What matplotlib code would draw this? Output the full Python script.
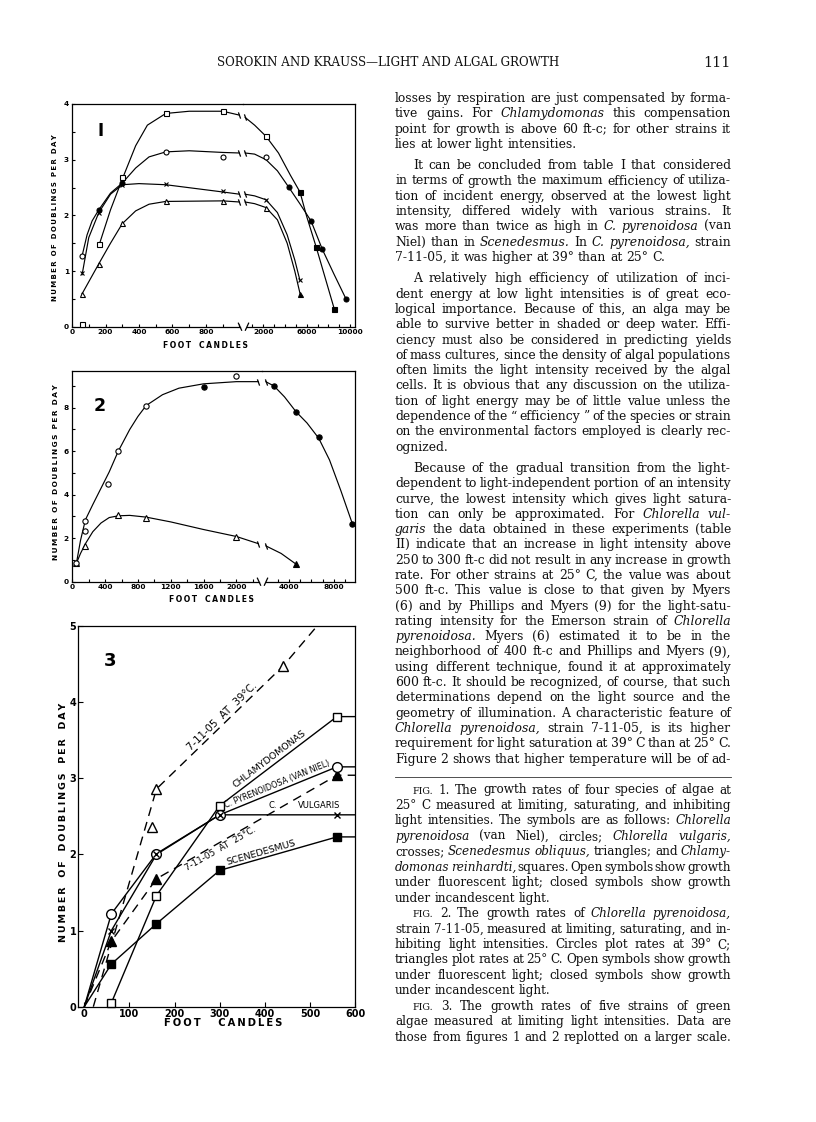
import numpy as np
import matplotlib
matplotlib.use("Agg")
import matplotlib.pyplot as plt
from matplotlib.lines import Line2D
from matplotlib.ticker import FixedLocator, FuncFormatter
import matplotlib.transforms as mtransforms

plt.rcParams['font.family'] = ['DejaVu Sans']
plt.rcParams['font.weight'] = 'bold'
plt.rcParams['lines.scale_dashes'] = False

# ======================= DATA =======================
# ---- Figure 1 : four species, 25 C (x = foot candles) ----
F1_CIRC_LX = [60, 160, 300, 560, 900]
F1_CIRC_LY = [1.27, 2.10, 2.58, 3.14, 3.05]
F1_CIRC_LF = [0, 1, 1, 0, 0]
F1_CIRC_RX = [2250, 4330, 6400, 7440, 9620]
F1_CIRC_RY = [3.04, 2.51, 1.90, 1.39, 0.50]
F1_CIRC_RF = [0, 1, 1, 1, 1]
F1_CIRC_CLX = [60, 90, 120, 160, 230, 300, 380, 460, 560, 700, 900, 1000]
F1_CIRC_CLY = [1.27, 1.65, 1.90, 2.10, 2.40, 2.58, 2.85, 3.05, 3.14, 3.16, 3.13, 3.12]
F1_CIRC_CRX = [320, 1200, 2250, 3300, 4330, 5400, 6400, 7440, 8500, 9620]
F1_CIRC_CRY = [3.12, 3.10, 3.00, 2.80, 2.51, 2.20, 1.90, 1.39, 0.95, 0.50]

F1_CROSS_LX = [60, 160, 300, 560, 900]
F1_CROSS_LY = [0.96, 2.05, 2.55, 2.57, 2.44]
F1_CROSS_RX = [2250, 5380]
F1_CROSS_RY = [2.28, 0.83]
F1_CROSS_CLX = [60, 100, 160, 230, 300, 400, 560, 900, 1000]
F1_CROSS_CLY = [0.93, 1.60, 2.05, 2.38, 2.55, 2.57, 2.55, 2.42, 2.38]
F1_CROSS_CRX = [320, 1200, 2250, 3300, 4200, 4900, 5380]
F1_CROSS_CRY = [2.38, 2.35, 2.28, 2.05, 1.65, 1.20, 0.83]

F1_TRI_LX = [60, 160, 300, 560, 900]
F1_TRI_LY = [0.59, 1.13, 1.87, 2.26, 2.26]
F1_TRI_RX = [2250, 5380]
F1_TRI_RY = [2.14, 0.58]
F1_TRI_RF = [0, 1]
F1_TRI_CLX = [60, 160, 230, 300, 380, 460, 560, 900, 1000]
F1_TRI_CLY = [0.59, 1.13, 1.50, 1.85, 2.08, 2.20, 2.25, 2.26, 2.24]
F1_TRI_CRX = [320, 1200, 2250, 3300, 4200, 4900, 5380]
F1_TRI_CRY = [2.24, 2.21, 2.14, 1.92, 1.50, 1.00, 0.60]

F1_SQ_LX = [60, 160, 300, 560, 900]
F1_SQ_LY = [0.05, 1.49, 2.68, 3.84, 3.88]
F1_SQ_RX = [2250, 5380, 6860, 8540]
F1_SQ_RY = [3.42, 2.42, 1.44, 0.32]
F1_SQ_RF = [0, 1, 1, 1]
F1_SQ_CLX = [160, 230, 300, 380, 450, 560, 700, 900, 1000]
F1_SQ_CLY = [1.45, 2.10, 2.65, 3.25, 3.62, 3.83, 3.87, 3.87, 3.80]
F1_SQ_CRX = [320, 1200, 2250, 3400, 4500, 5380, 6000, 6860, 7700, 8540]
F1_SQ_CRY = [3.76, 3.62, 3.42, 3.12, 2.72, 2.42, 1.98, 1.44, 0.88, 0.32]

F1_XT_L = [0, 200, 400, 600, 800]
F1_XT_LMIN = [100, 300, 500, 700, 900, 1000]
F1_XT_R = [2000, 6000, 10000]
F1_XT_RMIN = [1000, 3000, 4000, 5000, 7000, 8000, 9000]
F1_YT = [0, 1, 2, 3, 4]
F1_YT_MIN = [0.5, 1.5, 2.5, 3.5]

# ---- Figure 2 : strain 7-11-05 at 39 C (circles) and 25 C (triangles) ----
F2_CIRC_LX = [50, 150, 160, 440, 560, 900, 1600, 2000]
F2_CIRC_LY = [0.85, 2.33, 2.80, 4.50, 6.02, 8.08, 8.95, 9.46]
F2_CIRC_LF = [0, 0, 0, 0, 0, 0, 1, 0]
F2_CIRC_RX = [2670, 4620, 6640, 9630]
F2_CIRC_RY = [9.00, 7.82, 6.67, 2.67]
F2_CIRC_CLX = [50, 100, 160, 250, 350, 450, 560, 700, 800, 900, 1100, 1300, 1600, 2000, 2268]
F2_CIRC_CLY = [0.85, 1.90, 2.85, 3.55, 4.30, 5.05, 6.00, 7.00, 7.60, 8.10, 8.60, 8.90, 9.10, 9.20, 9.20]
F2_CIRC_CRX = [1930, 2670, 3600, 4620, 5600, 6640, 7600, 8600, 9630]
F2_CIRC_CRY = [9.20, 9.00, 8.50, 7.82, 7.30, 6.60, 5.60, 4.20, 2.67]

F2_TRI_LX = [50, 160, 560, 900, 2000]
F2_TRI_LY = [0.85, 1.66, 3.05, 2.95, 2.05]
F2_TRI_RX = [4620]
F2_TRI_RY = [0.81]
F2_TRI_CLX = [50, 100, 160, 250, 350, 450, 560, 700, 900, 1200, 1600, 2000, 2268]
F2_TRI_CLY = [0.85, 1.30, 1.75, 2.30, 2.70, 2.95, 3.03, 3.05, 2.97, 2.75, 2.40, 2.08, 1.75]
F2_TRI_CRX = [1930, 3300, 4620]
F2_TRI_CRY = [1.65, 1.30, 0.81]

F2_XT_L = [0, 400, 800, 1200, 1600, 2000]
F2_XT_LMIN = [200, 600, 1000, 1400, 1800, 2200]
F2_XT_R = [4000, 8000]
F2_XT_RMIN = [3000, 5000, 6000, 7000, 9000]
F2_YT = [0, 2, 4, 6, 8]
F2_YT_MIN = [1, 3, 5, 7, 9]

# ---- Figure 3 : limiting intensities, larger scale ----
F3_CIRC_X = [60, 160, 300, 560]
F3_CIRC_Y = [1.22, 2.01, 2.52, 3.15]
F3_CIRC_LX = [0, 60, 160, 300, 560, 600]
F3_CIRC_LY = [0, 1.22, 2.01, 2.52, 3.15, 3.15]

F3_CROSS_X = [60, 160, 300, 560]
F3_CROSS_Y = [1.00, 2.00, 2.52, 2.52]
F3_CROSS_LX = [0, 60, 160, 300, 560, 600]
F3_CROSS_LY = [0, 1.00, 2.00, 2.52, 2.52, 2.52]

F3_SQ_X = [60, 160, 300, 560]
F3_SQ_Y = [0.05, 1.46, 2.64, 3.81]
F3_SQ_LX = [60, 160, 300, 560, 600]
F3_SQ_LY = [0.05, 1.46, 2.64, 3.81, 3.81]

F3_FSQ_X = [60, 160, 300, 560]
F3_FSQ_Y = [0.56, 1.09, 1.79, 2.23]
F3_FSQ_LX = [0, 60, 160, 300, 560, 600]
F3_FSQ_LY = [0, 0.56, 1.09, 1.79, 2.23, 2.23]

F3_FTRI_X = [60, 160, 560]
F3_FTRI_Y = [0.86, 1.68, 3.04]
F3_FTRI_LX = [0, 60, 160, 560, 600]
F3_FTRI_LY = [0, 0.86, 1.68, 3.04, 3.04]

F3_OTRI_X = [150, 160, 440]
F3_OTRI_Y = [2.36, 2.86, 4.47]
F3_OTRI_LX = [20, 160, 440, 516]
F3_OTRI_LY = [0, 2.86, 4.47, 5.0]

F3_XT = [0, 100, 200, 300, 400, 500, 600]
F3_YT = [0, 1, 2, 3, 4, 5]

# ---- page text ----
HEADER = "SOROKIN AND KRAUSS\u2014LIGHT AND ALGAL GROWTH"
PAGE_NO = "111"

BODY = [
    (False, False, [
        "losses by respiration are just compensated by forma-",
        "tive gains. For _Chlamydomonas_ this compensation",
        "point for growth is above 60 ft-c; for other strains it",
        "lies at lower light intensities."]),
    (True, False, [
        "It can be concluded from table I that considered",
        "in terms of growth the maximum efficiency of utiliza-",
        "tion of incident energy, observed at the lowest light",
        "intensity, differed widely with various strains. It",
        "was more than twice as high in _C. pyrenoidosa_ (van",
        "Niel) than in _Scenedesmus._ In _C. pyrenoidosa,_ strain",
        "7-11-05, it was higher at 39\u00b0 than at 25\u00b0 C."]),
    (True, False, [
        "A relatively high efficiency of utilization of inci-",
        "dent energy at low light intensities is of great eco-",
        "logical importance. Because of this, an alga may be",
        "able to survive better in shaded or deep water. Effi-",
        "ciency must also be considered in predicting yields",
        "of mass cultures, since the density of algal populations",
        "often limits the light intensity received by the algal",
        "cells. It is obvious that any discussion on the utiliza-",
        "tion of light energy may be of little value unless the",
        "dependence of the \u201c efficiency \u201d of the species or strain",
        "on the environmental factors employed is clearly rec-",
        "ognized."]),
    (True, True, [
        "Because of the gradual transition from the light-",
        "dependent to light-independent portion of an intensity",
        "curve, the lowest intensity which gives light satura-",
        "tion can only be approximated. For _Chlorella vul-_",
        "_garis_ the data obtained in these experiments (table",
        "II) indicate that an increase in light intensity above",
        "250 to 300 ft-c did not result in any increase in growth",
        "rate. For other strains at 25\u00b0 C, the value was about",
        "500 ft-c. This value is close to that given by Myers",
        "(6) and by Phillips and Myers (9) for the light-satu-",
        "rating intensity for the Emerson strain of _Chlorella_",
        "_pyrenoidosa._ Myers (6) estimated it to be in the",
        "neighborhood of 400 ft-c and Phillips and Myers (9),",
        "using different technique, found it at approximately",
        "600 ft-c. It should be recognized, of course, that such",
        "determinations depend on the light source and the",
        "geometry of illumination. A characteristic feature of",
        "_Chlorella pyrenoidosa,_ strain 7-11-05, is its higher",
        "requirement for light saturation at 39\u00b0 C than at 25\u00b0 C.",
        "Figure 2 shows that higher temperature will be of ad-"]),
]

CAPTIONS = [
    (True, False, [
        "^FIG. 1. The growth rates of four species of algae at",
        "25\u00b0 C measured at limiting, saturating, and inhibiting",
        "light intensities. The symbols are as follows: _Chlorella_",
        "_pyrenoidosa_ (van Niel), circles; _Chlorella vulgaris,_",
        "crosses; _Scenedesmus obliquus,_ triangles; and _Chlamy-_",
        "_domonas reinhardti,_ squares. Open symbols show growth",
        "under fluorescent light; closed symbols show growth",
        "under incandescent light."]),
    (True, False, [
        "^FIG. 2. The growth rates of _Chlorella pyrenoidosa,_",
        "strain 7-11-05, measured at limiting, saturating, and in-",
        "hibiting light intensities. Circles plot rates at 39\u00b0 C;",
        "triangles plot rates at 25\u00b0 C. Open symbols show growth",
        "under fluorescent light; closed symbols show growth",
        "under incandescent light."]),
    (True, True, [
        "^FIG. 3. The growth rates of five strains of green",
        "algae measured at limiting light intensities. Data are",
        "those from figures 1 and 2 replotted on a larger scale."]),
]

# ======================= FIGURE =======================
W, H = 816, 1122
fig = plt.figure(figsize=(W / 100, H / 100), dpi=100)
fig.patch.set_facecolor('white')


def fx(x):
    return x / W


def fy(y):
    return 1 - y / H


def rect(x0, y0, x1, y1):
    return [x0 / W, 1 - y1 / H, (x1 - x0) / W, (y1 - y0) / H]


def spaced(s, sep='\u2009', gap='   '):
    return gap.join(sep.join(list(w)) for w in s.split())


INT = FuncFormatter(lambda v, p: f"{int(round(v))}")


def style(ax, hide, ls=5.3, tl=2.5):
    for s in hide:
        ax.spines[s].set_visible(False)
    for s in ax.spines.values():
        s.set_linewidth(0.9)
    ax.set_facecolor('none')
    ax.tick_params(which='both', direction='in', length=tl, width=0.8,
                   labelsize=ls, pad=2)


def marks(ax, xs, ys, filled, marker, ms, mew=0.8):
    for x, y, f in zip(xs, ys, filled):
        ax.plot([x], [y], marker=marker, ms=ms, mew=mew, mec='black',
                mfc='black' if f else 'white', ls='none', clip_on=False, zorder=5)


def curve(ax, xs, ys, lw=0.85, **kw):
    ax.plot(xs, ys, color='black', lw=lw, zorder=3, solid_joinstyle='round',
            solid_capstyle='round', **kw)


BRK = [(-0.35, 1.0), (0.35, -1.0)]


def end_tick(ax, x, y):
    ax.plot([x], [y], marker=BRK, ms=4.5, mew=0.9, color='black', ls='none', zorder=4)


def axis_break(xp, yp, sgn):
    fig.add_artist(Line2D([fx(xp - 1.6 * sgn), fx(xp + 1.6 * sgn)],
                          [fy(yp - 3.5), fy(yp + 3.5)], color='black', lw=0.9))


# ---------------- Figure 1 ----------------
a1 = fig.add_axes(rect(71.7, 104, 243.3, 326.7))
b1 = fig.add_axes(rect(243.3, 104, 355, 326.7))
a1.set_xlim(-1.8, 1022.7)
b1.set_xlim(157, 10452)
for ax in (a1, b1):
    ax.set_ylim(0, 4.0)
style(a1, ['right'])
style(b1, ['left'])
a1.xaxis.set_major_locator(FixedLocator(F1_XT_L))
a1.xaxis.set_minor_locator(FixedLocator(F1_XT_LMIN))
a1.xaxis.set_major_formatter(INT)
a1.yaxis.set_major_locator(FixedLocator(F1_YT))
a1.yaxis.set_minor_locator(FixedLocator(F1_YT_MIN))
a1.yaxis.set_major_formatter(INT)
b1.xaxis.set_major_locator(FixedLocator(F1_XT_R))
b1.xaxis.set_minor_locator(FixedLocator(F1_XT_RMIN))
b1.xaxis.set_major_formatter(INT)
b1.tick_params(axis='y', which='both', left=False, labelleft=False)
a1.spines['bottom'].set_bounds(-1.8, 1003)
b1.spines['bottom'].set_bounds(498, 10452)
axis_break(240, 326.7, 1)
axis_break(247, 326.7, -1)

for cx, cy in [(F1_CIRC_CLX, F1_CIRC_CLY), (F1_CROSS_CLX, F1_CROSS_CLY),
               (F1_TRI_CLX, F1_TRI_CLY), (F1_SQ_CLX, F1_SQ_CLY)]:
    curve(a1, cx, cy)
    end_tick(a1, cx[-1], cy[-1])
for cx, cy in [(F1_CIRC_CRX, F1_CIRC_CRY), (F1_CROSS_CRX, F1_CROSS_CRY),
               (F1_TRI_CRX, F1_TRI_CRY), (F1_SQ_CRX, F1_SQ_CRY)]:
    curve(b1, cx, cy)
    end_tick(b1, cx[0], cy[0])
MS1 = 3.6
marks(a1, F1_CROSS_LX, F1_CROSS_LY, [0] * 5, 'x', 3.0)
marks(b1, F1_CROSS_RX, F1_CROSS_RY, [0] * 2, 'x', 3.0)
marks(a1, F1_TRI_LX, F1_TRI_LY, [0] * 5, '^', MS1)
marks(b1, F1_TRI_RX, F1_TRI_RY, F1_TRI_RF, '^', MS1)
marks(a1, F1_SQ_LX, F1_SQ_LY, [0] * 5, 's', MS1)
marks(b1, F1_SQ_RX, F1_SQ_RY, F1_SQ_RF, 's', MS1)
marks(a1, F1_CIRC_LX, F1_CIRC_LY, F1_CIRC_LF, 'o', MS1)
marks(b1, F1_CIRC_RX, F1_CIRC_RY, F1_CIRC_RF, 'o', MS1)

fig.text(fx(101), fy(131), "I", fontsize=12, ha='center', va='center')
fig.text(fx(55), fy(218), spaced("NUMBER OF DOUBLINGS PER DAY", gap='  '), fontsize=5.0,
         rotation=90, ha='center', va='center')
fig.text(fx(205), fy(345), spaced("FOOT CANDLES"), fontsize=5.5, ha='center', va='center')

# ---------------- Figure 2 ----------------
a2 = fig.add_axes(rect(71.5, 371, 262, 581.7))
b2 = fig.add_axes(rect(262, 371, 355, 581.7))
a2.set_xlim(-10, 2313)
b2.set_xlim(1600, 9867)
for ax in (a2, b2):
    ax.set_ylim(0, 9.69)
style(a2, ['right'])
style(b2, ['left'])
a2.xaxis.set_major_locator(FixedLocator(F2_XT_L))
a2.xaxis.set_minor_locator(FixedLocator(F2_XT_LMIN))
a2.xaxis.set_major_formatter(INT)
a2.yaxis.set_major_locator(FixedLocator(F2_YT))
a2.yaxis.set_minor_locator(FixedLocator(F2_YT_MIN))
a2.yaxis.set_major_formatter(INT)
b2.xaxis.set_major_locator(FixedLocator(F2_XT_R))
b2.xaxis.set_minor_locator(FixedLocator(F2_XT_RMIN))
b2.xaxis.set_major_formatter(INT)
b2.tick_params(axis='y', which='both', left=False, labelleft=False)
a2.spines['bottom'].set_bounds(-10, 2277)
b2.spines['bottom'].set_bounds(1956, 9867)
axis_break(259, 581.7, 1)
axis_break(266, 581.7, -1)

for cx, cy in [(F2_CIRC_CLX, F2_CIRC_CLY), (F2_TRI_CLX, F2_TRI_CLY)]:
    curve(a2, cx, cy)
    end_tick(a2, cx[-1], cy[-1])
for cx, cy in [(F2_CIRC_CRX, F2_CIRC_CRY), (F2_TRI_CRX, F2_TRI_CRY)]:
    curve(b2, cx, cy)
    end_tick(b2, cx[0], cy[0])
marks(a2, F2_TRI_LX, F2_TRI_LY, [0] * 5, '^', 4.2)
marks(b2, F2_TRI_RX, F2_TRI_RY, [1], '^', 4.2)
marks(a2, F2_CIRC_LX, F2_CIRC_LY, F2_CIRC_LF, 'o', 3.8)
marks(b2, F2_CIRC_RX, F2_CIRC_RY, [1] * 4, 'o', 3.8)

fig.text(fx(100), fy(406), "2", fontsize=12.5, ha='center', va='center')
fig.text(fx(56), fy(472), spaced("NUMBER OF DOUBLINGS PER DAY", gap='  '), fontsize=5.3,
         rotation=90, ha='center', va='center')
fig.text(fx(211), fy(599), spaced("FOOT CANDLES"), fontsize=5.5, ha='center', va='center')

# ---------------- Figure 3 ----------------
a3 = fig.add_axes(rect(78.3, 626, 355, 1006.7))
a3.set_xlim(-13.3, 600)
a3.set_ylim(0, 5)
style(a3, [], ls=7, tl=3.5)
a3.tick_params(pad=1.5)
a3.xaxis.set_major_locator(FixedLocator(F3_XT))
a3.yaxis.set_major_locator(FixedLocator(F3_YT))
a3.xaxis.set_major_formatter(INT)
a3.yaxis.set_major_formatter(INT)

LW3 = 1.0
DASH = (6.5, 4.5)
curve(a3, F3_CIRC_LX, F3_CIRC_LY, lw=LW3)
curve(a3, F3_CROSS_LX, F3_CROSS_LY, lw=LW3)
curve(a3, F3_SQ_LX, F3_SQ_LY, lw=LW3)
curve(a3, F3_FSQ_LX, F3_FSQ_LY, lw=LW3)
curve(a3, F3_FTRI_LX, F3_FTRI_LY, lw=LW3, dashes=DASH)
curve(a3, F3_OTRI_LX, F3_OTRI_LY, lw=LW3, dashes=DASH)

marks(a3, F3_SQ_X, F3_SQ_Y, [0] * 4, 's', 6.2, mew=1.0)
marks(a3, F3_FSQ_X, F3_FSQ_Y, [1] * 4, 's', 6.0, mew=1.0)
marks(a3, F3_FTRI_X, F3_FTRI_Y, [1] * 3, '^', 6.5, mew=1.0)
marks(a3, F3_OTRI_X, F3_OTRI_Y, [0] * 3, '^', 6.5, mew=1.0)
marks(a3, F3_CIRC_X, F3_CIRC_Y, [0] * 4, 'o', 7.0, mew=1.0)
marks(a3, F3_CROSS_X, F3_CROSS_Y, [0] * 4, 'x', 5.0, mew=1.0)


def seg_angle(ax, xa, ya, xb, yb):
    p = ax.transData.transform([(xa, ya), (xb, yb)])
    return np.degrees(np.arctan2(p[1, 1] - p[0, 1], p[1, 0] - p[0, 0]))


def line_label(ax, text, xs, ys, xc, off_pt, size):
    i = int(np.searchsorted(xs, xc)) - 1
    ang = seg_angle(ax, xs[i], ys[i], xs[i + 1], ys[i + 1])
    yc = ys[i] + (ys[i + 1] - ys[i]) * (xc - xs[i]) / (xs[i + 1] - xs[i])
    th = np.radians(ang)
    tr = mtransforms.offset_copy(ax.transData, fig=fig, x=-np.sin(th) * off_pt,
                                 y=np.cos(th) * off_pt, units='points')
    ax.text(xc, yc, text, transform=tr, rotation=ang, rotation_mode='anchor',
            ha='center', va='center', fontsize=size, fontweight='normal', zorder=6)


line_label(a3, "7-11-05  AT  39\u00b0C.", F3_OTRI_LX, F3_OTRI_LY, 316, 4.6, 7.3)
line_label(a3, "CHLAMYDOMONAS", F3_SQ_LX, F3_SQ_LY, 420, 4.6, 6.8)
line_label(a3, "C. PYRENOIDOSA (VAN NIEL)", F3_CIRC_LX, F3_CIRC_LY, 432, 4.4, 5.8)
line_label(a3, "7-11-05  AT  25\u00b0C.", F3_FTRI_LX, F3_FTRI_LY, 295, -4.4, 6.3)
line_label(a3, "SCENEDESMUS", F3_FSQ_LX, F3_FSQ_LY, 396, 4.0, 6.8)
a3.text(418, 2.64, "C.", fontsize=6, fontweight='normal', ha='center', va='center')
a3.text(520, 2.64, "VULGARIS", fontsize=6, fontweight='normal', ha='center', va='center')

fig.text(fx(110), fy(661), "3", fontsize=13, ha='center', va='center')
fig.text(fx(63), fy(822), spaced("NUMBER OF DOUBLINGS PER DAY", gap='   '), fontsize=6.8,
         rotation=90, ha='center', va='center')
fig.text(fx(223), fy(1022.7), spaced("FOOT CANDLES", gap='     '), fontsize=7.2,
         ha='center', va='center')

# ======================= PAGE TEXT =======================
SERIF = 'DejaVu Serif'
renderer = fig.canvas.get_renderer()
COL_X0, COL_X1 = 395, 731
INDENT = 18


def parse(line):
    out = []
    ital = False
    for tok in line.split():
        small = tok.startswith('^')
        if small:
            tok = tok[1:]
        if tok.startswith('_'):
            ital = True
            tok = tok[1:]
        it = ital
        if '_' in tok:
            tok = tok.replace('_', '')
            ital = False
        out.append((tok, it, small))
    return out


def tsize(size, small):
    return size * (0.8 if small else 1.0)


def measure(tok, it, small, size):
    t = fig.text(0, 0, tok, fontsize=tsize(size, small), family=SERIF,
                 style='italic' if it else 'normal', fontweight='normal')
    w = t.get_window_extent(renderer).width
    t.remove()
    return w


def build_specs(paras, y0, lead, pgap):
    specs = []
    y = y0
    for k, (indent, last_just, lines) in enumerate(paras):
        if k > 0:
            y += pgap
        for j, ln in enumerate(lines):
            ind = INDENT if (indent and j == 0) else 0
            just = (j < len(lines) - 1) or last_just
            specs.append((ln, ind, just, y))
            y += lead
    return specs


def fit_size(specs):
    ratios = []
    for ln, ind, just, y in specs:
        if not just:
            continue
        words = parse(ln)
        ws = [measure(t, i, s, 10.0) for t, i, s in words]
        sp = 0.3 * 10.0 * 100 / 72
        nat = sum(ws) + sp * (len(ws) - 1)
        ratios.append((COL_X1 - COL_X0 - ind) / nat)
    return 10.0 * min(np.median(ratios) * 0.97, min(ratios) * 1.04)


def draw_specs(specs, size):
    sp = 0.3 * size * 100 / 72
    for ln, ind, just, y in specs:
        words = parse(ln)
        ws = [measure(t, i, s, size) for t, i, s in words]
        if just and len(ws) > 1:
            gap = (COL_X1 - COL_X0 - ind - sum(ws)) / (len(ws) - 1)
        else:
            gap = sp
        x = COL_X0 + ind
        for (t, i, s), w in zip(words, ws):
            fig.text(fx(x), fy(y), t, fontsize=tsize(size, s), family=SERIF,
                     style='italic' if i else 'normal', fontweight='normal',
                     ha='left', va='baseline', color='#111111')
            x += w + gap


body_specs = build_specs(BODY, 102, 15.3, 6)
cap_specs = build_specs(CAPTIONS, 793.5, 15.45, 0)
draw_specs(body_specs, fit_size(body_specs))
draw_specs(cap_specs, fit_size(cap_specs))

fig.add_artist(Line2D([fx(COL_X0), fx(COL_X1)], [fy(777), fy(777)], color='#333333', lw=0.6))

# header
ht = fig.text(0, 0, HEADER, fontsize=10, family=SERIF, fontweight='normal')
hw = ht.get_window_extent(renderer).width
ht.remove()
fig.text(fx(388), fy(66), HEADER, fontsize=10 * 340 / hw, family=SERIF, fontweight='normal',
         ha='center', va='baseline', color='#111111')
fig.text(fx(COL_X1), fy(67), PAGE_NO, fontsize=10.5, family=SERIF, fontweight='normal',
         ha='right', va='baseline', color='#111111')

fig.savefig("out.png", dpi=100, facecolor='white')
